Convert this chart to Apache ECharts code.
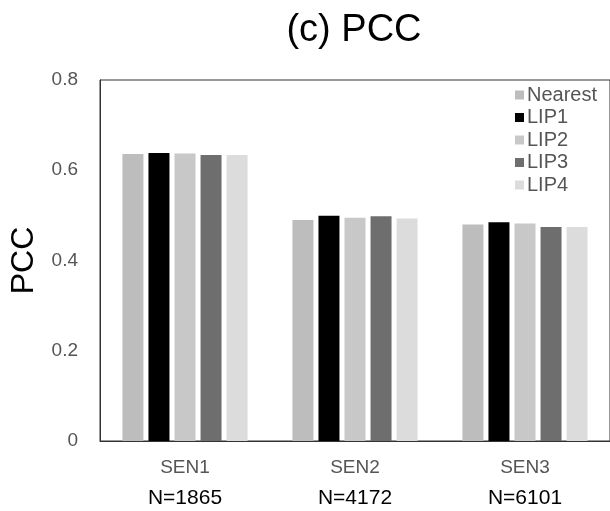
<!DOCTYPE html>
<html><head><meta charset="utf-8">
<script src="https://cdn.jsdelivr.net/npm/echarts@6/dist/echarts.min.js"></script>
<style>html,body{margin:0;padding:0;background:#fff}#c{width:610px;height:511px}</style>
</head><body><div id="c"></div>
<script>
const categories = ['SEN1', 'SEN2', 'SEN3'];
const sampleSizes = ['N=1865', 'N=4172', 'N=6101'];
const seriesNames = ['Nearest', 'LIP1', 'LIP2', 'LIP3', 'LIP4'];
const nearest = [0.636, 0.490, 0.480];
const lip1 = [0.638, 0.499, 0.485];
const lip2 = [0.637, 0.495, 0.482];
const lip3 = [0.634, 0.498, 0.474];
const lip4 = [0.634, 0.493, 0.474];
const yTicks = [0, 0.2, 0.4, 0.6, 0.8];
const colors = ['#bdbdbd', '#000000', '#c8c8c8', '#6e6e6e', '#dcdcdc'];
const values = [nearest, lip1, lip2, lip3, lip4];

const chart = echarts.init(document.getElementById('c'));
chart.setOption({
  animation: false,
  backgroundColor: '#fff',
  textStyle: { fontFamily: 'Liberation Sans' },
  title: {
    text: '(c) PCC', left: 349, top: 7, textAlign: 'center',
    textStyle: { fontSize: 38, fontWeight: 'normal', color: '#000', fontFamily: 'Liberation Sans' }
  },
  legend: {
    orient: 'vertical', left: 510, top: 80,
    itemWidth: 9, itemHeight: 9, itemGap: 2.5,
    icon: 'rect',
    data: seriesNames,
    textStyle: { fontSize: 20, color: '#555', lineHeight: 20, padding: [0, 0, 0, -2] }
  },
  grid: { left: 95, top: 80, width: 517, bottom: 70, show: true, borderColor: '#333', borderWidth: 1 },
  xAxis: {
    type: 'category', data: categories,
    axisLine: { lineStyle: { color: '#333', width: 1 } },
    axisTick: { show: false },
    axisLabel: {
      margin: 12,
      formatter: (v, i) => '{a|' + v + '}\n{b|' + sampleSizes[i] + '}',
      rich: {
        a: { fontSize: 19, color: '#555', lineHeight: 30, fontFamily: 'Liberation Sans' },
        b: { fontSize: 21, color: '#000', lineHeight: 30, fontFamily: 'Liberation Sans' }
      }
    }
  },
  yAxis: {
    type: 'value', min: yTicks[0], max: yTicks[yTicks.length - 1], interval: 0.2,
    name: 'PCC', nameLocation: 'middle', nameGap: 60, nameRotate: 90,
    nameTextStyle: { fontSize: 32, color: '#000', fontFamily: 'Liberation Sans' },
    axisLine: { show: true, lineStyle: { color: '#333', width: 1 } },
    axisTick: { show: false },
    splitLine: { show: false },
    axisLabel: { fontSize: 19, color: '#555', margin: 22, formatter: v => v === 0 ? '0' : v.toFixed(1) }
  },
  series: seriesNames.map((n, i) => ({
    name: n, type: 'bar', data: values[i], barWidth: 21, barGap: '24%',
    itemStyle: { color: colors[i] }
  }))
});
</script></body></html>
